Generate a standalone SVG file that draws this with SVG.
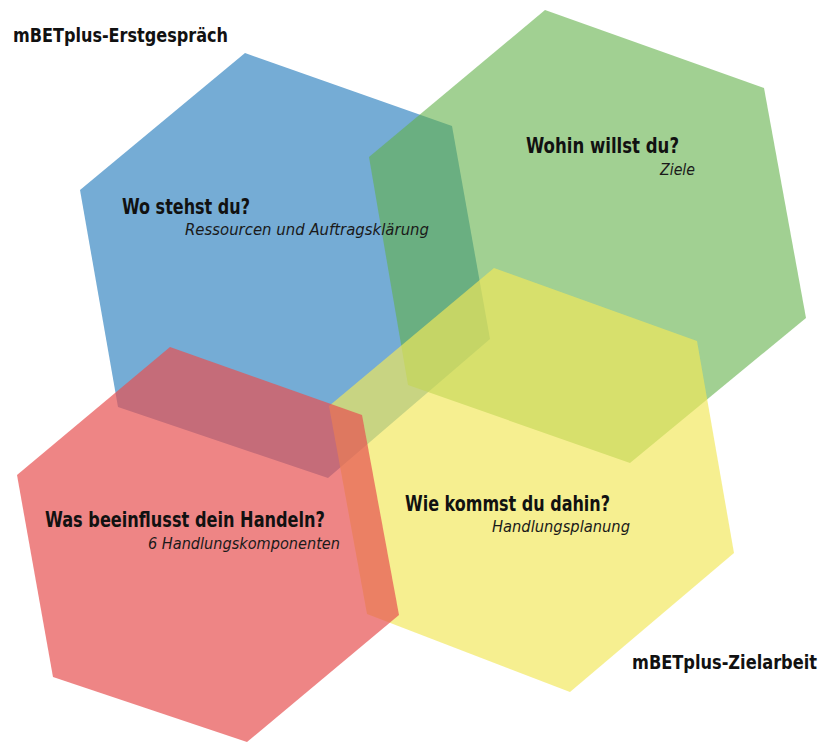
<svg xmlns="http://www.w3.org/2000/svg" width="832" height="743" viewBox="0 0 832 743">
  <style>
    .head { font-family: "Liberation Sans Narrow", "DejaVu Sans Condensed", "Liberation Sans", sans-serif; font-weight: bold; font-size: 20px; fill: #111; }
    .title { font-family: "Liberation Sans Narrow", "DejaVu Sans Condensed", "Liberation Sans", sans-serif; font-weight: bold; font-size: 22px; fill: #111; }
    .sub { font-family: "Liberation Sans Narrow", "DejaVu Sans Condensed", "Liberation Sans", sans-serif; font-style: italic; font-size: 16.5px; fill: #1a1a1a; }
    .blue { fill: #75acd5; }
    .green { fill: #62b04a; fill-opacity: 0.6; }
    .yellow { fill: #f2e75a; fill-opacity: 0.67; }
    .red { fill: #e75151; fill-opacity: 0.7; }
  </style>
  <rect width="832" height="743" fill="#ffffff"/>

  <!-- hexagon shapes, back to front -->
  <g id="node-wo-stehst-du">
    <polygon class="blue" points="245,53 452,126 490,339 328,478 118,407 80,190"/>
  </g>
  <g id="node-wohin-willst-du">
    <polygon class="green" points="545,10 764,88 806,318 630,463 408,385 369,157"/>
  </g>
  <g id="node-wie-kommst-du-dahin">
    <polygon class="yellow" points="494,268 697,341 734,553 570,692 367,614 329,406"/>
  </g>
  <g id="node-was-beeinflusst">
    <polygon class="red" points="170,347 362,415 399,615 247,742 53,677 17,475"/>
  </g>

  <!-- labels drawn above all shapes -->
  <g id="labels">
    <g id="label-wo-stehst-du">
      <text class="title" x="122" y="214" textLength="128" lengthAdjust="spacingAndGlyphs">Wo stehst du?</text>
      <text class="sub" x="185" y="235" textLength="244" lengthAdjust="spacingAndGlyphs">Ressourcen und Auftragsklärung</text>
    </g>
    <g id="label-wohin-willst-du">
      <text class="title" x="526" y="153" textLength="153" lengthAdjust="spacingAndGlyphs">Wohin willst du?</text>
      <text class="sub" x="660" y="175" textLength="35" lengthAdjust="spacingAndGlyphs">Ziele</text>
    </g>
    <g id="label-wie-kommst-du-dahin">
      <text class="title" x="405" y="511" textLength="205" lengthAdjust="spacingAndGlyphs">Wie kommst du dahin?</text>
      <text class="sub" x="492" y="532" textLength="138" lengthAdjust="spacingAndGlyphs">Handlungsplanung</text>
    </g>
    <g id="label-was-beeinflusst">
      <text class="title" x="45" y="527" textLength="280" lengthAdjust="spacingAndGlyphs">Was beeinflusst dein Handeln?</text>
      <text class="sub" x="148" y="549" textLength="192" lengthAdjust="spacingAndGlyphs">6 Handlungskomponenten</text>
    </g>
  </g>

  <!-- section headings -->
  <text id="heading-erstgespraech" class="head" x="13" y="42" textLength="215" lengthAdjust="spacingAndGlyphs">mBETplus-Erstgespräch</text>
  <text id="heading-zielarbeit" class="head" x="632" y="669" textLength="185" lengthAdjust="spacingAndGlyphs">mBETplus-Zielarbeit</text>
</svg>
